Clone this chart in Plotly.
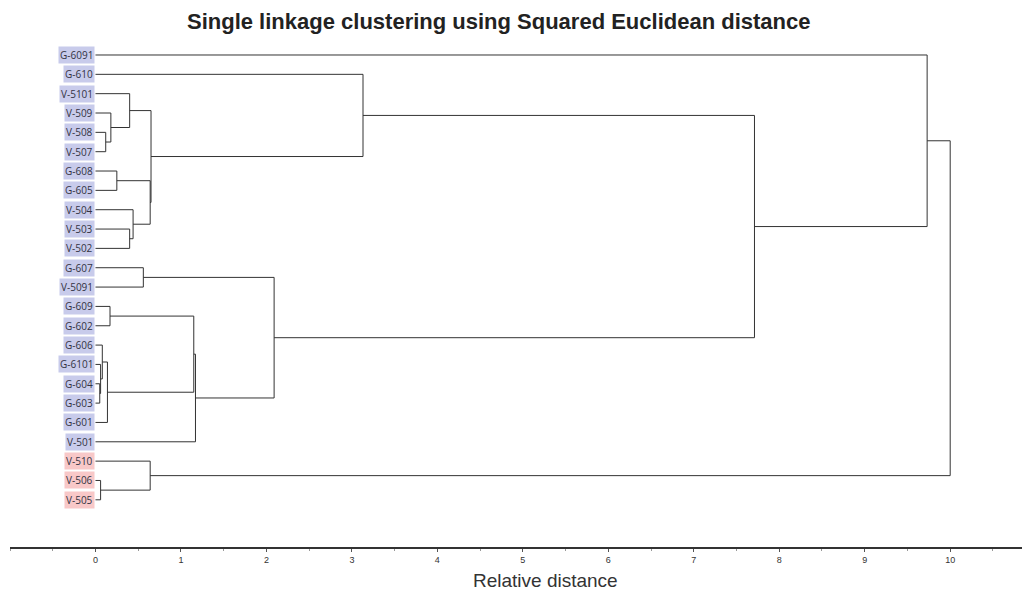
import plotly.graph_objects as go

# ---- data ----
leaves = ["G-6091", "G-610", "V-5101", "V-509", "V-508", "V-507", "G-608", "G-605",
          "V-504", "V-503", "V-502", "G-607", "V-5091", "G-609", "G-602", "G-606",
          "G-6101", "G-604", "G-603", "G-601", "V-501", "V-510", "V-506", "V-505"]
groups = ["blue"] * 21 + ["red"] * 3

# linkage: (upper child, lower child, distance); clusters numbered from 24
merge_a = [17, 16, 22, 15, 4, 27, 13, 3, 6, 9, 2, 8, 11, 32, 21, 34, 30, 40, 36, 1, 43, 0, 45]
merge_b = [18, 24, 23, 25, 5, 19, 14, 28, 7, 10, 31, 33, 12, 35, 26, 37, 29, 20, 41, 39, 42, 44, 38]
merge_d = [0.05, 0.06, 0.06, 0.08, 0.12, 0.14, 0.17, 0.18, 0.25, 0.40, 0.40, 0.44, 0.56,
           0.64, 0.64, 0.65, 1.15, 1.17, 2.09, 3.13, 7.71, 9.73, 10.0]

tick_vals = list(range(0, 11))
x_title = "Relative distance"
title = "Single linkage clustering using Squared Euclidean distance"

# ---- build dendrogram segments ----
n = len(leaves)
pos_y = {i: float(i) for i in range(n)}
pos_x = {i: 0.0 for i in range(n)}
xs, ys = [], []
for k, (a, b, d) in enumerate(zip(merge_a, merge_b, merge_d)):
    cid = n + k
    ya, yb = pos_y[a], pos_y[b]
    xs += [pos_x[a], d, d, pos_x[b], None]
    ys += [ya, ya, yb, yb, None]
    pos_y[cid] = (ya + yb) / 2
    pos_x[cid] = d

fig = go.Figure()
fig.add_trace(go.Scatter(x=xs, y=ys, mode="lines",
                         line=dict(color="#333333", width=1),
                         hoverinfo="skip", showlegend=False))

colors = {"blue": "#c8cbeb", "red": "#f8c8c8"}
annotations = []
for i, (name, g) in enumerate(zip(leaves, groups)):
    annotations.append(dict(x=0, y=i, xref="x", yref="y", text=name,
                            xanchor="right", yanchor="middle", showarrow=False,
                            font=dict(family="Open Sans", size=10, color="#333344"),
                            bgcolor=colors[g], borderpad=1))

annotations.append(dict(x=0.483, y=1.036, xref="paper", yref="paper", text="<b>" + title + "</b>",
                        showarrow=False, xanchor="center", yanchor="middle",
                        font=dict(family="Liberation Sans", size=22, color="#222222")))
annotations.append(dict(x=0.529, y=-0.066, xref="paper", yref="paper", text=x_title,
                        showarrow=False, xanchor="center", yanchor="middle",
                        font=dict(family="Liberation Sans", size=19, color="#333333")))

fig.update_layout(
    width=1025, height=592,
    margin=dict(l=10, r=3, t=40, b=45),
    paper_bgcolor="white", plot_bgcolor="white",
    annotations=annotations,
    xaxis=dict(range=[-1.0, 10.84], tickvals=tick_vals, ticktext=[str(v) for v in tick_vals],
               showgrid=False, zeroline=False, showline=True, linecolor="#333333", linewidth=1.5,
               ticks="outside", ticklen=3, tickcolor="#555555",
               tickfont=dict(family="Liberation Sans", size=9, color="#333333"),
               minor=dict(dtick=0.5, tick0=0, ticks="outside", ticklen=2, tickcolor="#999999")),
    yaxis=dict(range=[25.44, -0.775], visible=False, showgrid=False, zeroline=False),
)

fig.write_html("out.html")
